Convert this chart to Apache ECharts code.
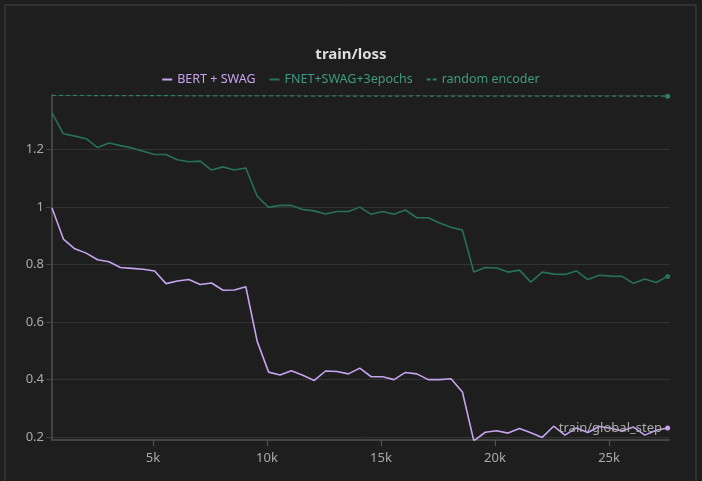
<!DOCTYPE html>
<html style="height: 100%">
<head>
  <meta charset="utf-8">
</head>
<body style="height: 100%; margin: 0; background: #1e1e1e">
  <div id="container" style="height: 100%"></div>
  <script type="text/javascript" src="https://cdn.jsdelivr.net/npm/echarts@6/dist/echarts.min.js"></script>
  <script type="text/javascript">
// steps: 570, 1070, ... 27570
var steps = [];
for (var i = 0; i < 55; i++) steps.push(570 + 500 * i);

var bertSwag = [
  0.997, 0.889, 0.855, 0.84, 0.817, 0.81, 0.79, 0.787, 0.784, 0.778,
  0.734, 0.743, 0.748, 0.731, 0.736, 0.711, 0.712, 0.723, 0.533, 0.426,
  0.416, 0.431, 0.415, 0.397, 0.43, 0.428, 0.42, 0.44, 0.41, 0.41,
  0.40, 0.425, 0.42, 0.40, 0.40, 0.403, 0.357, 0.187, 0.217, 0.222,
  0.214, 0.23, 0.215, 0.199, 0.238, 0.207, 0.232, 0.216, 0.237, 0.231,
  0.221, 0.235, 0.207, 0.224, 0.232
];
var fnetSwag = [
  1.328, 1.255, 1.247, 1.238, 1.207, 1.223, 1.214, 1.206, 1.194, 1.183,
  1.183, 1.165, 1.158, 1.16, 1.129, 1.14, 1.129, 1.136, 1.038, 0.999,
  1.006, 1.006, 0.992, 0.987, 0.976, 0.985, 0.985, 1.0, 0.975, 0.985,
  0.975, 0.99, 0.963, 0.963, 0.945, 0.93, 0.92, 0.774, 0.79, 0.788,
  0.774, 0.781, 0.739, 0.774, 0.767, 0.766, 0.778, 0.748, 0.763, 0.76,
  0.759, 0.735, 0.75, 0.738, 0.759
];
var randomEncoder = [
  1.389, 1.389, 1.389, 1.388, 1.388, 1.388, 1.388, 1.388, 1.388, 1.388,
  1.388, 1.388, 1.387, 1.387, 1.387, 1.387, 1.387, 1.387, 1.387, 1.387,
  1.387, 1.387, 1.386, 1.386, 1.386, 1.387, 1.386, 1.386, 1.386, 1.386,
  1.386, 1.386, 1.387, 1.386, 1.386, 1.386, 1.386, 1.386, 1.386, 1.386,
  1.386, 1.386, 1.386, 1.386, 1.386, 1.386, 1.386, 1.386, 1.386, 1.386,
  1.386, 1.386, 1.386, 1.386, 1.386
];

function pairs(ys) {
  return ys.map(function (y, i) { return [steps[i], y]; });
}
function endDot(ys) {
  return {
    symbol: 'circle',
    symbolSize: 5,
    data: [{ coord: [steps[steps.length - 1], ys[ys.length - 1]] }],
    label: { show: false },
    silent: true
  };
}

var solidIcon = 'path://M0,0H10V2H0Z';
var dashIcon = 'path://M0,0H4V2H0Z M6,0H10V2H6Z';

var myChart = echarts.init(document.getElementById('container'), null, { renderer: 'canvas' });
var option = {
  backgroundColor: '#1e1e1e',
  animation: false,
  textStyle: { fontFamily: 'Noto Sans' },
  title: {
    text: 'train/loss',
    left: 'center',
    top: 42,
    textStyle: { color: '#dddddd', fontSize: 15, fontWeight: 'bold' }
  },
  legend: {
    top: 68,
    left: 'center',
    itemWidth: 10,
    itemHeight: 2,
    itemGap: 14,
    textStyle: { fontSize: 12.5 },
    data: [
      { name: 'BERT + SWAG', icon: solidIcon, textStyle: { color: '#c6a3ef' } },
      { name: 'FNET+SWAG+3epochs', icon: solidIcon, textStyle: { color: '#3f9a82' } },
      { name: 'random encoder', icon: dashIcon, textStyle: { color: '#3f9a82' } }
    ]
  },
  graphic: [
    {
      type: 'rect',
      shape: { x: 5, y: 5, width: 691, height: 490 },
      style: { fill: 'none', stroke: '#444', lineWidth: 1 },
      silent: true
    },
    {
      type: 'text',
      right: 40,
      top: 422,
      style: { text: 'train/global_step', fill: '#aaaaaa', fontSize: 13, fontFamily: 'Noto Sans' },
      z: 10
    }
  ],
  grid: { left: 52, right: 33, top: 95, bottom: 41, containLabel: false },
  xAxis: {
    type: 'value',
    min: 570,
    max: 27630,
    axisLine: { lineStyle: { color: '#444', width: 2 } },
    axisTick: { show: true, length: 6, lineStyle: { color: '#555' } },
    splitLine: { show: false },
    axisLabel: {
      color: '#aaaaaa', fontSize: 13, margin: 12, showMinLabel: false, showMaxLabel: false,
      formatter: function (v) { return v / 1000 + 'k'; }
    }
  },
  yAxis: {
    type: 'value',
    min: 0.19,
    max: 1.39,
    axisLine: { show: true, lineStyle: { color: '#444', width: 2 } },
    axisTick: { show: true, length: 6, lineStyle: { color: '#444' } },
    splitLine: { lineStyle: { color: '#333' } },
    axisLabel: { color: '#aaaaaa', fontSize: 13, showMinLabel: false, showMaxLabel: false }
  },
  series: [
    {
      name: 'BERT + SWAG', type: 'line', showSymbol: false,
      data: pairs(bertSwag), color: '#c6a3ef',
      lineStyle: { width: 1.6 },
      markPoint: endDot(bertSwag)
    },
    {
      name: 'FNET+SWAG+3epochs', type: 'line', showSymbol: false,
      data: pairs(fnetSwag), color: '#27705c',
      lineStyle: { width: 1.6 },
      markPoint: endDot(fnetSwag)
    },
    {
      name: 'random encoder', type: 'line', showSymbol: false,
      data: pairs(randomEncoder), color: '#2b7f69',
      lineStyle: { width: 1.2, type: [4, 3] },
      markPoint: endDot(randomEncoder)
    }
  ]
};
myChart.setOption(option);
window.addEventListener('resize', myChart.resize);
  </script>
</body>
</html>
